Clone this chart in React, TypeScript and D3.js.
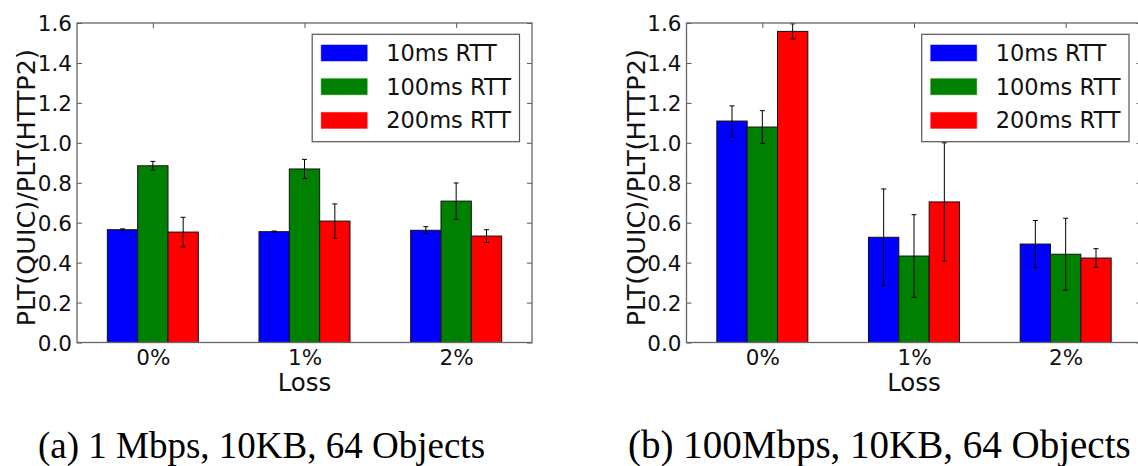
import React, { useRef, useEffect } from "react";
import * as d3 from "d3";

// loss categories and RTT series
const CATEGORIES = ["0%", "1%", "2%"];
const SERIES = ["10ms RTT", "100ms RTT", "200ms RTT"];
const COLORS = ["#0000ff", "#008000", "#ff0000"];
const Y_TICKS = [0, 0.2, 0.4, 0.6, 0.8, 1.0, 1.2, 1.4, 1.6];

// (a) 1 Mbps -- one row per series, one value per loss category
const A_VALUES = [
  [0.565, 0.555, 0.562],
  [0.885, 0.869, 0.708],
  [0.553, 0.608, 0.533],
];
const A_ERRORS = [
  [0.004, 0.003, 0.018],
  [0.022, 0.048, 0.091],
  [0.074, 0.086, 0.032],
];

// (b) 100Mbps
const B_VALUES = [
  [1.109, 0.527, 0.493],
  [1.079, 0.433, 0.442],
  [1.558, 0.704, 0.423],
];
const B_ERRORS = [
  [0.076, 0.242, 0.118],
  [0.082, 0.207, 0.18],
  [0.038, 0.296, 0.047],
];

const CAPTIONS = ["(a) 1 Mbps, 10KB, 64 Objects", "(b) 100Mbps, 10KB, 64 Objects"];

const WIDTH = 1138;
const HEIGHT = 466;
const SANS = "'DejaVu Sans', sans-serif";

const drawPanel = (svg, left, values, errors, caption, captionX, captionSize) => {
  const top = 23;
  const bottom = 342.5;
  const plotW = 455;
  const barW = 0.2;

  const x = d3.scaleLinear().domain([-0.5, 2.5]).range([left, left + plotW]);
  const y = d3.scaleLinear().domain([0, 1.6]).range([bottom, top]);

  const g = svg.append("g");

  // bars
  values.forEach((row, i) => {
    g.selectAll(null)
      .data(row)
      .enter()
      .append("rect")
      .attr("x", (d, j) => x(j + (i - 1.5) * barW))
      .attr("y", (d) => y(d))
      .attr("width", x(barW) - x(0))
      .attr("height", (d) => y(0) - y(d))
      .attr("fill", COLORS[i])
      .attr("stroke", "#111")
      .attr("stroke-width", 1);
  });

  // error bars
  values.forEach((row, i) => {
    row.forEach((v, j) => {
      const cx = x(j + (i - 1) * barW);
      const e = errors[i][j];
      const eg = g.append("g").attr("stroke", "#000").attr("stroke-width", 1);
      eg.append("line").attr("x1", cx).attr("x2", cx).attr("y1", y(v - e)).attr("y2", y(v + e));
      [v - e, v + e].forEach((yy) => {
        eg.append("line").attr("x1", cx - 2.5).attr("x2", cx + 2.5).attr("y1", y(yy)).attr("y2", y(yy));
      });
    });
  });

  // axes with inward ticks
  const yLeft = g.append("g")
    .attr("transform", `translate(${left},0)`)
    .call(d3.axisLeft(y).tickValues(Y_TICKS).tickFormat(d3.format(".1f")).tickSize(-5).tickPadding(5));
  const yRight = g.append("g")
    .attr("transform", `translate(${left + plotW},0)`)
    .call(d3.axisRight(y).tickValues(Y_TICKS).tickFormat(() => "").tickSize(-5));
  const xBottom = g.append("g")
    .attr("transform", `translate(0,${bottom})`)
    .call(d3.axisBottom(x).tickValues([0, 1, 2]).tickFormat((d) => CATEGORIES[d]).tickSize(-5).tickPadding(7));
  const xTop = g.append("g")
    .attr("transform", `translate(0,${top})`)
    .call(d3.axisTop(x).tickValues([0, 1, 2]).tickFormat(() => "").tickSize(-5));

  [yLeft, yRight, xBottom, xTop].forEach((a) => {
    a.select(".domain").remove();
    a.selectAll("line").attr("stroke", "#555");
    a.selectAll("text").attr("font-family", SANS).attr("font-size", 21.5).attr("fill", "#111");
  });
  yLeft.selectAll("text").attr("dy", "0.36em");

  // spines
  g.append("rect")
    .attr("x", left)
    .attr("y", top)
    .attr("width", plotW)
    .attr("height", bottom - top)
    .attr("fill", "none")
    .attr("stroke", "#666")
    .attr("stroke-width", 1.3);

  // axis labels
  g.append("text")
    .attr("transform", `translate(${left - 42},${(top + bottom) / 2 + 5}) rotate(-90)`)
    .attr("text-anchor", "middle")
    .attr("font-family", SANS)
    .attr("font-size", 25.5)
    .attr("fill", "#111")
    .text("PLT(QUIC)/PLT(HTTP2)");

  g.append("text")
    .attr("x", left + plotW / 2)
    .attr("y", 391)
    .attr("text-anchor", "middle")
    .attr("font-family", SANS)
    .attr("font-size", 24.5)
    .attr("fill", "#111")
    .text("Loss");

  // legend
  const lx = left + plotW - 12.5 - 207.3;
  const ly = 34.3;
  const leg = g.append("g");
  leg.append("rect")
    .attr("x", lx)
    .attr("y", ly)
    .attr("width", 207.3)
    .attr("height", 107.4)
    .attr("fill", "#fff")
    .attr("stroke", "#555")
    .attr("stroke-width", 1.2);
  SERIES.forEach((s, i) => {
    const cy = ly + 18.7 + i * 33.7;
    leg.append("rect")
      .attr("x", lx + 9)
      .attr("y", cy - 8)
      .attr("width", 46)
      .attr("height", 16)
      .attr("fill", COLORS[i])
      .attr("stroke", COLORS[i])
      .attr("stroke-opacity", 0.5);
    leg.append("text")
      .attr("x", lx + 74)
      .attr("y", cy + 8)
      .attr("font-family", SANS)
      .attr("font-size", 22.5)
      .attr("fill", "#111")
      .text(s);
  });

  // caption
  svg.append("text")
    .attr("x", captionX)
    .attr("y", 458)
    .attr("font-family", "'Liberation Serif', 'Times New Roman', serif")
    .attr("font-size", captionSize)
    .attr("fill", "#000")
    .text(caption);
};

const App = () => {
  const svgRef = useRef(null);

  useEffect(() => {
    const svg = d3.select(svgRef.current);
    svg.selectAll("*").remove();
    svg.append("rect").attr("width", WIDTH).attr("height", HEIGHT).attr("fill", "#fff");

    drawPanel(svg, 77, A_VALUES, A_ERRORS, CAPTIONS[0], 38, 37);
    drawPanel(svg, 686.5, B_VALUES, B_ERRORS, CAPTIONS[1], 628, 39);
  }, []);

  return (
    <svg
      ref={svgRef}
      width={WIDTH}
      height={HEIGHT}
      style={{ position: "absolute", left: 0, top: 0, display: "block" }}
    />
  );
};

export default App;
